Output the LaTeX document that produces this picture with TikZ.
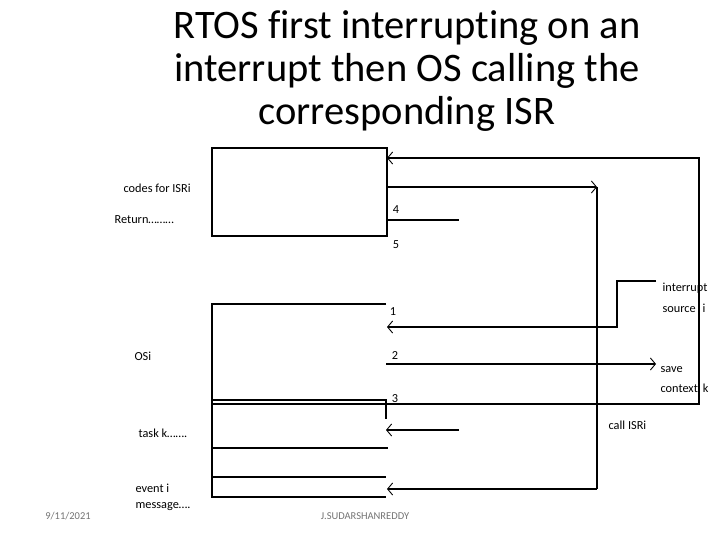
\documentclass[tikz,border=0pt]{standalone}
\usepackage{fontspec}
\setmainfont[Ligatures=NoCommon]{Carlito}
\usetikzlibrary{arrows.meta}
\begin{document}
\begin{tikzpicture}[x=1pt,y=-1pt,line width=1.2pt,
  lbl/.style={font=\fontsize{12.3}{14}\selectfont,anchor=west,inner sep=0pt},
  num/.style={font=\fontsize{12.3}{14}\selectfont,inner sep=0pt},
  foot/.style={font=\fontsize{10.5}{12}\selectfont,text=black!55,inner sep=0pt},
  tip/.style={-{Straight Barb[length=5pt,width=12pt,line width=0.9pt]}}]
\useasboundingbox (0,0) rectangle (720,540);
% title
\node[align=center,font=\fontsize{40.5}{43}\selectfont] (title) at (407,71)
  {RTOS first interrupting on an\\interrupt then OS calling the\\corresponding ISR};
% ISR box
\draw (212,148) rectangle (387,236);
% OS / task box lines
\draw (386,304) -- (212,304) -- (212,497) -- (386,497);
\draw (212,400) -- (386,400) -- (386,419);
\draw (212,448) -- (388,448);
\draw (212,477) -- (386,477);
% coordinates
\coordinate (isrIn) at (387,158);
\coordinate (isrOut) at (387,187);
\coordinate (ret4a) at (387,220);
\coordinate (ret4b) at (459,220);
\coordinate (osIn1) at (387,327);
\coordinate (os2) at (386,364);
\coordinate (os3) at (212,404);
\coordinate (taskIn) at (386,430);
\coordinate (taskFrom) at (459,430);
\coordinate (evIn) at (387,489);
% connectors
\draw[tip] (os3) -- (699,404) -- (699,158) -- (isrIn);
\draw[tip] (isrOut) -- (597,187);
\draw (597,187) -- (597,489);
\draw[tip] (597,489) -- (evIn);
\draw (ret4a) -- (ret4b);
\draw[tip] (656,281) -- (617,281) -- (617,327) -- (osIn1);
\draw[tip] (os2) -- (656,364);
\draw[tip] (taskFrom) -- (taskIn);
% labels
\node[lbl] (l1) at (123,188) {codes for ISRi};
\node[lbl] (l2) at (114,220) {Return\dots\dots\dots};
\node[num] (n4) at (396,210) {4};
\node[num] (n5) at (396,245) {5};
\node[num] (n1) at (393,312) {1};
\node[num] (n2) at (395,356) {2};
\node[num] (n3) at (395,399) {3};
\node[lbl] (l3) at (134,356) {OSi};
\node[lbl] (l4) at (138,433) {task k\dots\dots.};
\node[lbl] (l5) at (135,488) {event i};
\node[lbl] (l6) at (135,507) {message\dots.};
\node[lbl] (l7) at (662,288) {interrupt};
\node[lbl] (l8) at (662,308) {source \,\,i};
\node[lbl] (l9) at (660,370) {save};
\node[lbl] (l10) at (660,388) {context \,k};
\node[lbl] (l11) at (608,425) {call ISRi};
\node[foot] (f1) at (365,516) {J.SUDARSHANREDDY};
\node[foot] (f2) at (68,516) {9/11/2021};
\end{tikzpicture}
\end{document}
